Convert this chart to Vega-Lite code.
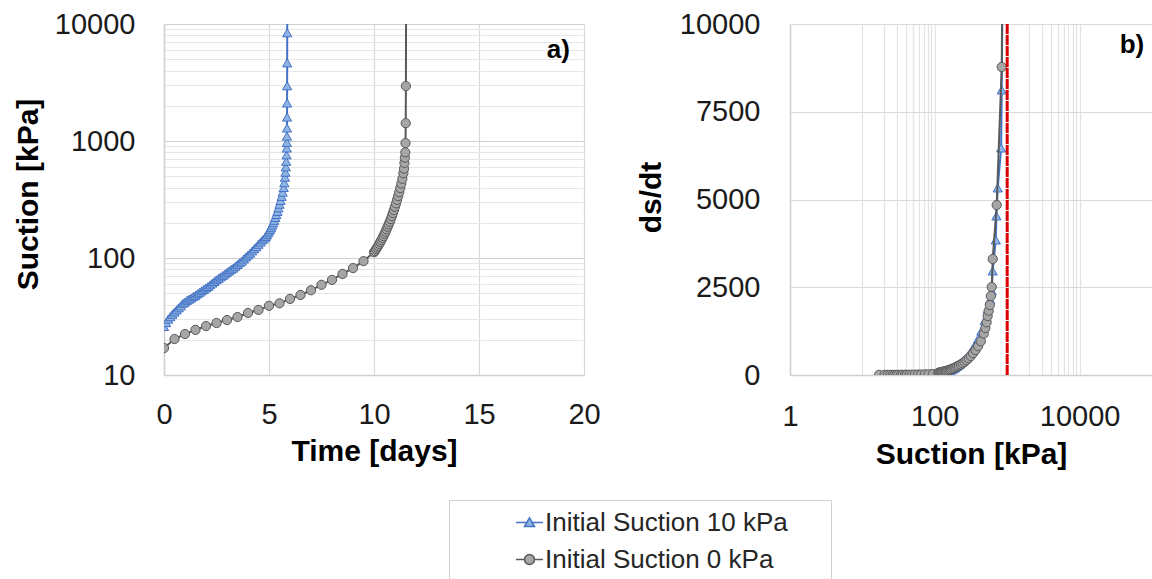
{
  "$schema": "https://vega.github.io/schema/vega-lite/v6.json",
  "padding": {"left": 13, "top": 10, "right": 0, "bottom": 0},
  "bounds": "flush",
  "spacing": 206,
  "background": "white",
  "config": {
    "view": {"stroke": null},
    "font": "Liberation Sans",
    "axis": {
      "labelFont": "Liberation Sans", "labelFontSize": 29, "labelColor": "#1a1a1a",
      "titleFont": "Liberation Sans", "titleFontSize": 30, "titleFontWeight": "bold", "titleColor": "#000000",
      "ticks": false, "tickSize": 0, "domainColor": "#d0d0d0", "domainWidth": 1.5,
      "gridColor": "#d9d9d9", "gridWidth": 1.2, "labelOverlap": false, "labelFlush": false
    },
    "legend": {
      "orient": "none", "legendX": 285, "legendY": 476, "title": null,
      "symbolSize": 729, "symbolOffset": 58, "labelOffset": 1, "padding": 8, "rowPadding": 9,
      "strokeColor": "#d0d0d0", "fillColor": "#ffffff", "symbolStrokeWidth": 1.5, "symbolOpacity": 1,
      "labelFont": "Liberation Sans", "labelFontSize": 26, "labelColor": "#262626", "labelLimit": 400
    }
  },
  "datasets": {
    "a": [
      {"series": "Initial Suction 10 kPa", "t": 0, "s": 26},
      {"series": "Initial Suction 10 kPa", "t": 0.1, "s": 28},
      {"series": "Initial Suction 10 kPa", "t": 0.2, "s": 30},
      {"series": "Initial Suction 10 kPa", "t": 0.3, "s": 31.5},
      {"series": "Initial Suction 10 kPa", "t": 0.4, "s": 33},
      {"series": "Initial Suction 10 kPa", "t": 0.5, "s": 34.5},
      {"series": "Initial Suction 10 kPa", "t": 0.6, "s": 36},
      {"series": "Initial Suction 10 kPa", "t": 0.7, "s": 37.5},
      {"series": "Initial Suction 10 kPa", "t": 0.8, "s": 39},
      {"series": "Initial Suction 10 kPa", "t": 0.9, "s": 41},
      {"series": "Initial Suction 10 kPa", "t": 1.0, "s": 42},
      {"series": "Initial Suction 10 kPa", "t": 1.1, "s": 43.5},
      {"series": "Initial Suction 10 kPa", "t": 1.2, "s": 44.5},
      {"series": "Initial Suction 10 kPa", "t": 1.3, "s": 45.5},
      {"series": "Initial Suction 10 kPa", "t": 1.4, "s": 47},
      {"series": "Initial Suction 10 kPa", "t": 1.5, "s": 48},
      {"series": "Initial Suction 10 kPa", "t": 1.6, "s": 49.5},
      {"series": "Initial Suction 10 kPa", "t": 1.7, "s": 51},
      {"series": "Initial Suction 10 kPa", "t": 1.8, "s": 52.5},
      {"series": "Initial Suction 10 kPa", "t": 1.9, "s": 54},
      {"series": "Initial Suction 10 kPa", "t": 2.0, "s": 55.5},
      {"series": "Initial Suction 10 kPa", "t": 2.1, "s": 57},
      {"series": "Initial Suction 10 kPa", "t": 2.2, "s": 59},
      {"series": "Initial Suction 10 kPa", "t": 2.3, "s": 61},
      {"series": "Initial Suction 10 kPa", "t": 2.4, "s": 63},
      {"series": "Initial Suction 10 kPa", "t": 2.5, "s": 65},
      {"series": "Initial Suction 10 kPa", "t": 2.6, "s": 67},
      {"series": "Initial Suction 10 kPa", "t": 2.7, "s": 69},
      {"series": "Initial Suction 10 kPa", "t": 2.8, "s": 71},
      {"series": "Initial Suction 10 kPa", "t": 2.9, "s": 73},
      {"series": "Initial Suction 10 kPa", "t": 3.0, "s": 75.5},
      {"series": "Initial Suction 10 kPa", "t": 3.1, "s": 77.5},
      {"series": "Initial Suction 10 kPa", "t": 3.2, "s": 80},
      {"series": "Initial Suction 10 kPa", "t": 3.3, "s": 82},
      {"series": "Initial Suction 10 kPa", "t": 3.4, "s": 85},
      {"series": "Initial Suction 10 kPa", "t": 3.5, "s": 88},
      {"series": "Initial Suction 10 kPa", "t": 3.6, "s": 91},
      {"series": "Initial Suction 10 kPa", "t": 3.7, "s": 94},
      {"series": "Initial Suction 10 kPa", "t": 3.8, "s": 98},
      {"series": "Initial Suction 10 kPa", "t": 3.9, "s": 102},
      {"series": "Initial Suction 10 kPa", "t": 4.0, "s": 106},
      {"series": "Initial Suction 10 kPa", "t": 4.1, "s": 110},
      {"series": "Initial Suction 10 kPa", "t": 4.2, "s": 115},
      {"series": "Initial Suction 10 kPa", "t": 4.3, "s": 120},
      {"series": "Initial Suction 10 kPa", "t": 4.4, "s": 125},
      {"series": "Initial Suction 10 kPa", "t": 4.5, "s": 131},
      {"series": "Initial Suction 10 kPa", "t": 4.6, "s": 137},
      {"series": "Initial Suction 10 kPa", "t": 4.7, "s": 143},
      {"series": "Initial Suction 10 kPa", "t": 4.8, "s": 148},
      {"series": "Initial Suction 10 kPa", "t": 4.85, "s": 153},
      {"series": "Initial Suction 10 kPa", "t": 4.9, "s": 158},
      {"series": "Initial Suction 10 kPa", "t": 4.95, "s": 164},
      {"series": "Initial Suction 10 kPa", "t": 5.0, "s": 170},
      {"series": "Initial Suction 10 kPa", "t": 5.05, "s": 176},
      {"series": "Initial Suction 10 kPa", "t": 5.1, "s": 183},
      {"series": "Initial Suction 10 kPa", "t": 5.15, "s": 191},
      {"series": "Initial Suction 10 kPa", "t": 5.2, "s": 200},
      {"series": "Initial Suction 10 kPa", "t": 5.25, "s": 210},
      {"series": "Initial Suction 10 kPa", "t": 5.3, "s": 222},
      {"series": "Initial Suction 10 kPa", "t": 5.35, "s": 235},
      {"series": "Initial Suction 10 kPa", "t": 5.4, "s": 250},
      {"series": "Initial Suction 10 kPa", "t": 5.45, "s": 268},
      {"series": "Initial Suction 10 kPa", "t": 5.5, "s": 288},
      {"series": "Initial Suction 10 kPa", "t": 5.55, "s": 310},
      {"series": "Initial Suction 10 kPa", "t": 5.6, "s": 336},
      {"series": "Initial Suction 10 kPa", "t": 5.65, "s": 365},
      {"series": "Initial Suction 10 kPa", "t": 5.7, "s": 400},
      {"series": "Initial Suction 10 kPa", "t": 5.73, "s": 440},
      {"series": "Initial Suction 10 kPa", "t": 5.76, "s": 490},
      {"series": "Initial Suction 10 kPa", "t": 5.78, "s": 540},
      {"series": "Initial Suction 10 kPa", "t": 5.8, "s": 600},
      {"series": "Initial Suction 10 kPa", "t": 5.82, "s": 670},
      {"series": "Initial Suction 10 kPa", "t": 5.835, "s": 760},
      {"series": "Initial Suction 10 kPa", "t": 5.845, "s": 870},
      {"series": "Initial Suction 10 kPa", "t": 5.85, "s": 970},
      {"series": "Initial Suction 10 kPa", "t": 5.855, "s": 1100},
      {"series": "Initial Suction 10 kPa", "t": 5.858, "s": 1290},
      {"series": "Initial Suction 10 kPa", "t": 5.86, "s": 1600},
      {"series": "Initial Suction 10 kPa", "t": 5.862, "s": 2110},
      {"series": "Initial Suction 10 kPa", "t": 5.864, "s": 2960},
      {"series": "Initial Suction 10 kPa", "t": 5.866, "s": 4650},
      {"series": "Initial Suction 10 kPa", "t": 5.868, "s": 8400},
      {"series": "Initial Suction 10 kPa", "t": 5.87, "s": 30000},
      {"series": "Initial Suction 0 kPa", "t": 0, "s": 17},
      {"series": "Initial Suction 0 kPa", "t": 0.5, "s": 20.3},
      {"series": "Initial Suction 0 kPa", "t": 1.0, "s": 22.4},
      {"series": "Initial Suction 0 kPa", "t": 1.5, "s": 24.3},
      {"series": "Initial Suction 0 kPa", "t": 2.0, "s": 26.2},
      {"series": "Initial Suction 0 kPa", "t": 2.5, "s": 27.8},
      {"series": "Initial Suction 0 kPa", "t": 3.0, "s": 29.5},
      {"series": "Initial Suction 0 kPa", "t": 3.5, "s": 31.3},
      {"series": "Initial Suction 0 kPa", "t": 4.0, "s": 33.9},
      {"series": "Initial Suction 0 kPa", "t": 4.5, "s": 36},
      {"series": "Initial Suction 0 kPa", "t": 5.0, "s": 39},
      {"series": "Initial Suction 0 kPa", "t": 5.5, "s": 41},
      {"series": "Initial Suction 0 kPa", "t": 6.0, "s": 44.7},
      {"series": "Initial Suction 0 kPa", "t": 6.5, "s": 48.3},
      {"series": "Initial Suction 0 kPa", "t": 7.0, "s": 53},
      {"series": "Initial Suction 0 kPa", "t": 7.5, "s": 59},
      {"series": "Initial Suction 0 kPa", "t": 8.0, "s": 65},
      {"series": "Initial Suction 0 kPa", "t": 8.5, "s": 73},
      {"series": "Initial Suction 0 kPa", "t": 9.0, "s": 82},
      {"series": "Initial Suction 0 kPa", "t": 9.5, "s": 94},
      {"series": "Initial Suction 0 kPa", "t": 10.0, "s": 112},
      {"series": "Initial Suction 0 kPa", "t": 10.05, "s": 115},
      {"series": "Initial Suction 0 kPa", "t": 10.1, "s": 119},
      {"series": "Initial Suction 0 kPa", "t": 10.15, "s": 123},
      {"series": "Initial Suction 0 kPa", "t": 10.2, "s": 127},
      {"series": "Initial Suction 0 kPa", "t": 10.25, "s": 132},
      {"series": "Initial Suction 0 kPa", "t": 10.3, "s": 137},
      {"series": "Initial Suction 0 kPa", "t": 10.35, "s": 142},
      {"series": "Initial Suction 0 kPa", "t": 10.4, "s": 148},
      {"series": "Initial Suction 0 kPa", "t": 10.45, "s": 154},
      {"series": "Initial Suction 0 kPa", "t": 10.5, "s": 161},
      {"series": "Initial Suction 0 kPa", "t": 10.55, "s": 168},
      {"series": "Initial Suction 0 kPa", "t": 10.6, "s": 176},
      {"series": "Initial Suction 0 kPa", "t": 10.65, "s": 185},
      {"series": "Initial Suction 0 kPa", "t": 10.7, "s": 194},
      {"series": "Initial Suction 0 kPa", "t": 10.75, "s": 204},
      {"series": "Initial Suction 0 kPa", "t": 10.8, "s": 215},
      {"series": "Initial Suction 0 kPa", "t": 10.85, "s": 228},
      {"series": "Initial Suction 0 kPa", "t": 10.9, "s": 242},
      {"series": "Initial Suction 0 kPa", "t": 10.95, "s": 257},
      {"series": "Initial Suction 0 kPa", "t": 11.0, "s": 274},
      {"series": "Initial Suction 0 kPa", "t": 11.05, "s": 293},
      {"series": "Initial Suction 0 kPa", "t": 11.1, "s": 314},
      {"series": "Initial Suction 0 kPa", "t": 11.15, "s": 338},
      {"series": "Initial Suction 0 kPa", "t": 11.2, "s": 365},
      {"series": "Initial Suction 0 kPa", "t": 11.25, "s": 396},
      {"series": "Initial Suction 0 kPa", "t": 11.3, "s": 432},
      {"series": "Initial Suction 0 kPa", "t": 11.35, "s": 475},
      {"series": "Initial Suction 0 kPa", "t": 11.4, "s": 530},
      {"series": "Initial Suction 0 kPa", "t": 11.43, "s": 580},
      {"series": "Initial Suction 0 kPa", "t": 11.45, "s": 650},
      {"series": "Initial Suction 0 kPa", "t": 11.47, "s": 720},
      {"series": "Initial Suction 0 kPa", "t": 11.49, "s": 800},
      {"series": "Initial Suction 0 kPa", "t": 11.5, "s": 960},
      {"series": "Initial Suction 0 kPa", "t": 11.51, "s": 1420},
      {"series": "Initial Suction 0 kPa", "t": 11.52, "s": 2950},
      {"series": "Initial Suction 0 kPa", "t": 11.53, "s": 30000}
    ],
    "b10": [
      {"s": 26, "r": 18}, {"s": 28, "r": 18}, {"s": 30, "r": 17}, {"s": 31.5, "r": 15}, {"s": 33, "r": 15},
      {"s": 34.5, "r": 15}, {"s": 36, "r": 15}, {"s": 37.5, "r": 15}, {"s": 39, "r": 15}, {"s": 41, "r": 14},
      {"s": 42, "r": 13}, {"s": 43.5, "r": 12}, {"s": 44.5, "r": 11}, {"s": 45.5, "r": 12}, {"s": 47, "r": 12},
      {"s": 48, "r": 13}, {"s": 49.5, "r": 14}, {"s": 51, "r": 15}, {"s": 52.5, "r": 15}, {"s": 54, "r": 15},
      {"s": 55.5, "r": 16}, {"s": 57, "r": 18}, {"s": 59, "r": 20}, {"s": 61, "r": 20}, {"s": 63, "r": 20},
      {"s": 65, "r": 20}, {"s": 67, "r": 20}, {"s": 69, "r": 21}, {"s": 71, "r": 22}, {"s": 73, "r": 24},
      {"s": 75.5, "r": 23}, {"s": 77.5, "r": 24}, {"s": 80, "r": 26}, {"s": 82, "r": 29}, {"s": 85, "r": 31},
      {"s": 88, "r": 32}, {"s": 91, "r": 35}, {"s": 94, "r": 38}, {"s": 98, "r": 41}, {"s": 102, "r": 43},
      {"s": 106, "r": 45}, {"s": 110, "r": 50}, {"s": 115, "r": 55}, {"s": 120, "r": 62}, {"s": 125, "r": 68},
      {"s": 131, "r": 76}, {"s": 137, "r": 85}, {"s": 143, "r": 95}, {"s": 148, "r": 104}, {"s": 153, "r": 114},
      {"s": 158, "r": 124}, {"s": 164, "r": 137}, {"s": 170, "r": 152}, {"s": 176, "r": 168}, {"s": 183, "r": 188},
      {"s": 191, "r": 212}, {"s": 200, "r": 240}, {"s": 210, "r": 272}, {"s": 222, "r": 310}, {"s": 235, "r": 355},
      {"s": 250, "r": 410}, {"s": 268, "r": 475}, {"s": 288, "r": 550}, {"s": 310, "r": 640}, {"s": 336, "r": 750},
      {"s": 365, "r": 880}, {"s": 400, "r": 1040}, {"s": 440, "r": 1250}, {"s": 490, "r": 1550}, {"s": 540, "r": 1880},
      {"s": 580, "r": 2150}, {"s": 611, "r": 2393}, {"s": 630, "r": 2963}, {"s": 695, "r": 3846}, {"s": 710, "r": 4530},
      {"s": 740, "r": 5328}, {"s": 825, "r": 6467}, {"s": 840, "r": 8120}, {"s": 900, "r": 16000}
    ],
    "b0": [
      {"s": 17, "r": 5}, {"s": 20.3, "r": 5}, {"s": 22.4, "r": 4}, {"s": 24.3, "r": 4}, {"s": 26.2, "r": 3},
      {"s": 27.8, "r": 3}, {"s": 29.5, "r": 3}, {"s": 31.3, "r": 4}, {"s": 33.9, "r": 4}, {"s": 36, "r": 5},
      {"s": 39, "r": 5}, {"s": 41, "r": 6}, {"s": 44.7, "r": 7}, {"s": 48.3, "r": 8}, {"s": 53, "r": 10},
      {"s": 59, "r": 12}, {"s": 65, "r": 14}, {"s": 73, "r": 17}, {"s": 82, "r": 20}, {"s": 94, "r": 25},
      {"s": 112, "r": 60}, {"s": 115, "r": 68}, {"s": 119, "r": 76}, {"s": 123, "r": 84}, {"s": 127, "r": 90},
      {"s": 132, "r": 98}, {"s": 137, "r": 106}, {"s": 142, "r": 113}, {"s": 148, "r": 125}, {"s": 154, "r": 136},
      {"s": 161, "r": 150}, {"s": 168, "r": 165}, {"s": 176, "r": 182}, {"s": 185, "r": 202}, {"s": 194, "r": 222},
      {"s": 204, "r": 245}, {"s": 215, "r": 270}, {"s": 228, "r": 300}, {"s": 242, "r": 335}, {"s": 257, "r": 375},
      {"s": 274, "r": 420}, {"s": 293, "r": 475}, {"s": 314, "r": 540}, {"s": 338, "r": 620}, {"s": 365, "r": 710},
      {"s": 396, "r": 820}, {"s": 432, "r": 960}, {"s": 475, "r": 1180}, {"s": 500, "r": 1340}, {"s": 520, "r": 1500},
      {"s": 537, "r": 1680}, {"s": 555, "r": 1830}, {"s": 575, "r": 1994}, {"s": 595, "r": 2250}, {"s": 611, "r": 2507},
      {"s": 631, "r": 3305}, {"s": 716, "r": 4843}, {"s": 840, "r": 8775}, {"s": 900, "r": 16000}
    ]
  },
  "hconcat": [
    {
      "width": 420,
      "height": 351,
      "data": {"name": "a"},
      "layer": [
        {
          "transform": [{"filter": "datum.series == 'Initial Suction 10 kPa'"}],
          "mark": {"type": "line", "color": "#4472C4", "strokeWidth": 2, "clip": true},
          "encoding": {
            "x": {
              "field": "t", "type": "quantitative",
              "scale": {"domain": [0, 20], "nice": false},
              "axis": {
                "values": [0, 5, 10, 15, 20], "grid": true, "format": "d",
                "labelBaseline": "alphabetic", "labelPadding": 48,
                "title": "Time [days]", "titleX": 210, "titleY": 85,
                "titleBaseline": "alphabetic", "titleAlign": "center", "titleAnchor": null
              }
            },
            "y": {
              "field": "s", "type": "quantitative",
              "scale": {"type": "log", "domain": [10, 10000], "nice": false},
              "axis": {
                "values": [10, 20, 30, 40, 50, 60, 70, 80, 90, 100, 200, 300, 400, 500, 600, 700, 800, 900, 1000, 2000, 3000, 4000, 5000, 6000, 7000, 8000, 9000, 10000],
                "format": "d",
                "labelExpr": "indexof([10, 100, 1000, 10000], datum.value) >= 0 ? datum.label : ''",
                "labelPadding": 29, "labelBaseline": "middle",
                "gridColor": {"condition": {"test": "indexof([10, 100, 1000, 10000], datum.value) >= 0", "value": "#d0d0d0"}, "value": "#e6e6e6"},
                "title": "Suction [kPa]", "titleX": -127, "titleY": 170, "titleAngle": -90,
                "titleBaseline": "alphabetic", "titleAlign": "center", "titleAnchor": null
              }
            }
          }
        },
        {
          "transform": [{"filter": "datum.series == 'Initial Suction 10 kPa'"}],
          "mark": {"type": "point", "shape": "triangle-up", "filled": true, "fill": "#8EB4E3", "stroke": "#4472C4", "size": 85, "strokeWidth": 1, "opacity": 1, "clip": true},
          "encoding": {
            "x": {"field": "t", "type": "quantitative"},
            "y": {"field": "s", "type": "quantitative"}
          }
        },
        {
          "transform": [{"filter": "datum.series == 'Initial Suction 0 kPa'"}],
          "mark": {"type": "line", "color": "#595959", "strokeWidth": 2, "clip": true},
          "encoding": {
            "x": {"field": "t", "type": "quantitative"},
            "y": {"field": "s", "type": "quantitative"}
          }
        },
        {
          "transform": [{"filter": "datum.series == 'Initial Suction 0 kPa'"}],
          "mark": {"type": "point", "shape": "circle", "filled": true, "fill": "#A6A6A6", "stroke": "#595959", "size": 85, "strokeWidth": 1, "opacity": 1, "clip": true},
          "encoding": {
            "x": {"field": "t", "type": "quantitative"},
            "y": {"field": "s", "type": "quantitative"}
          }
        },
        {
          "transform": [{"filter": "false"}],
          "mark": {"type": "point", "filled": true, "opacity": 1},
          "encoding": {
            "x": {"field": "t", "type": "quantitative"},
            "y": {"field": "s", "type": "quantitative"},
            "shape": {
              "field": "series", "type": "nominal",
              "scale": {
                "domain": ["Initial Suction 10 kPa", "Initial Suction 0 kPa"],
                "range": [
                  "M-1,0H-0.2M0.2,0H1M0,-0.35L0.37,0.3L-0.37,0.3ZM21.5,0",
                  "M-1,0H-0.37M0.37,0H1M0.37,0A0.37,0.37,0,1,1,-0.37,0A0.37,0.37,0,1,1,0.37,0ZM21.5,0"
                ]
              }
            },
            "fill": {
              "field": "series", "type": "nominal",
              "scale": {"domain": ["Initial Suction 10 kPa", "Initial Suction 0 kPa"], "range": ["#8EB4E3", "#A6A6A6"]}
            },
            "stroke": {
              "field": "series", "type": "nominal",
              "scale": {"domain": ["Initial Suction 10 kPa", "Initial Suction 0 kPa"], "range": ["#4472C4", "#595959"]}
            }
          }
        },
        {
          "data": {"values": [{}]},
          "mark": {"type": "text", "text": "a)", "font": "Liberation Sans", "fontSize": 26, "fontWeight": "bold", "align": "right", "baseline": "middle", "color": "#000000"},
          "encoding": {"x": {"datum": 19.33}, "y": {"datum": 6000}}
        }
      ]
    },
    {
      "width": 362,
      "height": 351,
      "layer": [
        {
          "data": {"name": "b10"},
          "mark": {"type": "line", "color": "#4472C4", "strokeWidth": 2, "clip": true},
          "encoding": {
            "x": {
              "field": "s", "type": "quantitative",
              "scale": {"type": "log", "domain": [1, 100000], "nice": false},
              "axis": {
                "values": [1, 10, 20, 30, 40, 50, 60, 70, 80, 90, 100, 1000, 2000, 3000, 4000, 5000, 6000, 7000, 8000, 9000, 10000, 100000],
                "format": "d", "grid": true, "gridColor": "#e3e3e3",
                "labelExpr": "indexof([1, 100, 10000], datum.value) >= 0 ? datum.label : ''",
                "labelBaseline": "alphabetic", "labelPadding": 50,
                "title": "Suction [kPa]", "titleX": 181, "titleY": 88,
                "titleBaseline": "alphabetic", "titleAlign": "center", "titleAnchor": null
              }
            },
            "y": {
              "field": "r", "type": "quantitative",
              "scale": {"domain": [0, 10000], "nice": false},
              "axis": {
                "values": [0, 2500, 5000, 7500, 10000], "format": "d",
                "labelPadding": 30, "labelBaseline": "middle",
                "title": "ds/dt", "titleX": -130, "titleY": 173, "titleAngle": -90,
                "titleBaseline": "alphabetic", "titleAlign": "center", "titleAnchor": null
              }
            }
          }
        },
        {
          "data": {"name": "b10"},
          "mark": {"type": "point", "shape": "triangle-up", "filled": true, "fill": "#8EB4E3", "stroke": "#4472C4", "strokeWidth": 1, "size": 85, "opacity": 1, "clip": true},
          "encoding": {"x": {"field": "s", "type": "quantitative"}, "y": {"field": "r", "type": "quantitative"}}
        },
        {
          "data": {"name": "b0"},
          "mark": {"type": "line", "color": "#595959", "strokeWidth": 2, "clip": true},
          "encoding": {"x": {"field": "s", "type": "quantitative"}, "y": {"field": "r", "type": "quantitative"}}
        },
        {
          "data": {"name": "b0"},
          "mark": {"type": "point", "shape": "circle", "filled": true, "fill": "#A6A6A6", "stroke": "#595959", "strokeWidth": 1, "size": 85, "opacity": 1, "clip": true},
          "encoding": {"x": {"field": "s", "type": "quantitative"}, "y": {"field": "r", "type": "quantitative"}}
        },
        {
          "data": {"values": [{}]},
          "mark": {"type": "rule", "color": "#D80000", "strokeWidth": 3, "strokeDash": [10, 1]},
          "encoding": {"x": {"datum": 1000}}
        },
        {
          "data": {"values": [{}]},
          "mark": {"type": "text", "text": "b)", "font": "Liberation Sans", "fontSize": 26, "fontWeight": "bold", "align": "right", "baseline": "middle", "color": "#000000"},
          "encoding": {"x": {"datum": 78000}, "y": {"datum": 9400}}
        }
      ]
    }
  ]
}
